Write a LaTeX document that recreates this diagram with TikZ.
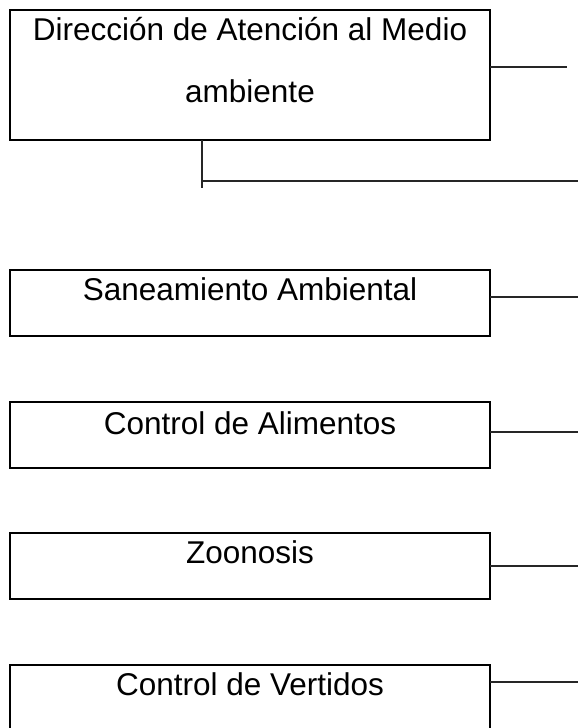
\documentclass[tikz,border=0pt]{standalone}
\usepackage{fontspec}
\setmainfont{Liberation Sans}
\usetikzlibrary{calc}
\begin{document}
\begin{tikzpicture}[x=1pt,y=-1pt,
  box/.style={draw=black, line width=2pt, inner sep=0pt, outer sep=0pt,
    minimum width=480pt, anchor=north west},
  lbl/.style={anchor=base, inner sep=0pt, font=\fontsize{31.5}{38}\selectfont},
  conn/.style={draw=black!85, line width=1.4pt}]
\useasboundingbox (0,0) rectangle (578,728);
% boxes
\node[box, minimum height=130pt] (dir) at (10,10) {};
\node[box, minimum height=66pt] (san) at (10,270) {};
\node[box, minimum height=66pt] (ali) at (10,402) {};
\node[box, minimum height=66pt] (zoo) at (10,533) {};
\node[box, minimum height=80pt] (ver) at (10,665) {};
% texts
\node[lbl] (t1) at (250,40) {Dirección de Atención al Medio};
\node[lbl] (t2) at (250,102) {ambiente};
\node[lbl] (t3) at (250,300) {Saneamiento Ambiental};
\node[lbl] (t4) at (250,434) {Control de Alimentos};
\node[lbl] (t5) at (250,563) {Zoonosis};
\node[lbl] (t6) at (250,695) {Control de Vertidos};
% connector end points
\coordinate (e0) at (567,67);
\coordinate (d0) at (202,188);
\coordinate (h0) at (578,181);
\coordinate (e1) at (578,297);
\coordinate (e2) at (578,432);
\coordinate (e3) at (578,566);
\coordinate (e4) at (578,682);
% connectors
\draw[conn] (dir.east |- e0) -- (e0);
\draw[conn] (dir.south -| d0) -- (d0);
\draw[conn] (d0 |- h0) -- (h0);
\draw[conn] (san.east |- e1) -- (e1);
\draw[conn] (ali.east |- e2) -- (e2);
\draw[conn] (zoo.east |- e3) -- (e3);
\draw[conn] (ver.east |- e4) -- (e4);
\end{tikzpicture}
\end{document}
